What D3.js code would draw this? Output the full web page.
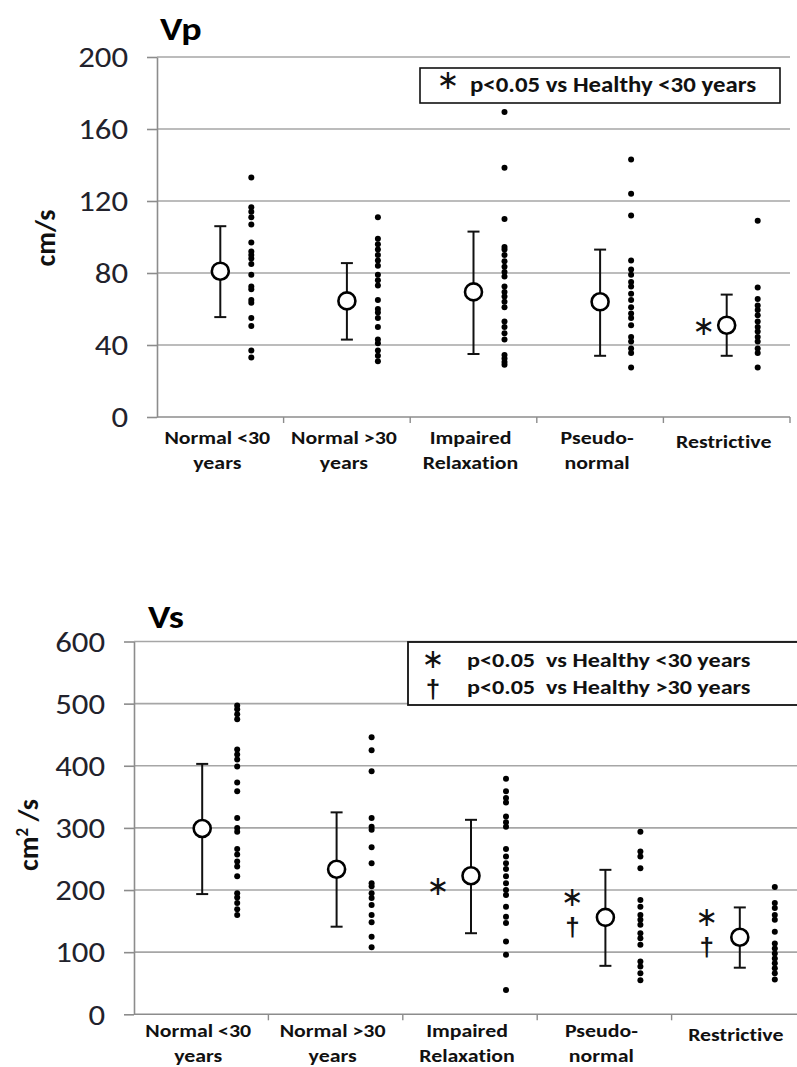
<!DOCTYPE html>
<html><head><meta charset="utf-8">
<script src="https://cdn.jsdelivr.net/npm/d3@7"></script>
<style>
body{margin:0;background:#fff;}
svg{display:block;font-family:Carlito,"Open Sans",sans-serif;font-variant-ligatures:none;}
</style></head><body>
<svg id="fig" width="797" height="1067"></svg>
<script>
// Group labels (one entry per line of the label)
const categories = [["Normal <30","years"],["Normal >30","years"],["Impaired","Relaxation"],["Pseudo-","normal"],["Restrictive"]];

// Vp, cm/s
const vpTicks = [0,40,80,120,160,200];
const vpMean  = [81, 64.5, 69.5, 64, 51];
const vpUpper = [106, 85.5, 103, 93, 68];
const vpLower = [55.5, 43, 35, 34, 34];
const vpPoints = [
  [133,116.5,114,111,107,97,92,90,88,85,79,72.5,71,65,63.5,55,50.5,37,33],
  [111,99,96,93,90,87,84,79,76,73,65,60,58,55,50,43,41,37,34,31],
  [169.5,138.5,110,94.5,93,90,86.5,83.5,80.5,78,72.5,69.5,67,64,61,53,50,46.5,43,34.5,32.5,30.5,29],
  [143,124,112,87,82,79,75,72.5,68.5,65,61,57.5,55,51,44.5,42,38,35.5,27.5],
  [109,72,65.5,62,59.5,56.5,53,50,47.5,44.5,42,38,35.5,27.5]
];
const vpMarks = [[],[],[],[],["∗"]];

// Vs, cm²/s
const vsTicks = [0,100,200,300,400,500,600];
const vsMean  = [299, 233.5, 223, 156, 124];
const vsUpper = [403, 325, 313, 232.5, 172];
const vsLower = [193.5, 141, 130.5, 78, 75];
const vsPoints = [
  [497,491,483,475,426,418,410,399,373,359,316,300,294,266,257,246,238,222,195,188,179,169,160],
  [446,425,391,316,302,297,269,243,211,206,195,187,176,160,148,125,108],
  [379,359,348,341,318.5,309,302,266,254,243,234,222,211,200,192,173,157,147,117,96,39],
  [294,262,254,235,184,173,160,152,144,130.5,122.5,112,85,77,66,55],
  [205,179,171,160,152,133,114,106,98,90,82,74,66,56]
];
const vsMarks = [[],[],["∗"],["∗","†"],["∗","†"]];

const SX = 1.15;           // horizontal stretch applied to lettering
const STAR_FONT = "'DejaVu Sans', sans-serif";
const DAGGER_FONT = "'Liberation Sans', Arial, sans-serif";
const svg = d3.select("#fig");

function label(parent, x, y, str, size, opts = {}) {
  return parent.append("text")
    .attr("transform", `translate(${x},${y}) scale(${SX},1)`)
    .attr("font-size", size)
    .attr("font-weight", opts.weight || "bold")
    .attr("text-anchor", opts.anchor || "start")
    .attr("fill", opts.fill || "#111")
    .style("white-space", "pre")
    .text(str);
}

// asterisk / dagger stack; y is the baseline of the first symbol
function markStack(parent, x, y, marks) {
  const g = parent.append("g");
  marks.forEach((s, j) => {
    const star = s === "∗";
    g.append("text").attr("x", x).attr("y", y + j * 30)
      .attr("text-anchor", "middle").attr("fill", "#111")
      .attr("font-family", star ? STAR_FONT : DAGGER_FONT)
      .attr("font-weight", star ? "normal" : "bold")
      .attr("font-size", star ? 27 : 26).text(s);
  });
  return g;
}

function panel(o) {
  const g = svg.append("g");
  const x = d3.scaleBand().domain(d3.range(categories.length)).range([o.left, o.right]);
  const y = d3.scaleLinear().domain([0, o.max]).range([o.bottom, o.top]);

  // horizontal gridlines
  g.append("g").selectAll("line").data(o.ticks.filter(t => t > 0)).join("line")
    .attr("x1", o.left).attr("x2", o.gridEnd)
    .attr("y1", d => y(d)).attr("y2", d => y(d))
    .attr("stroke", "#a6a6a6").attr("stroke-width", 1.6);

  // y axis
  const ya = g.append("g").attr("transform", `translate(${o.left},0)`)
    .call(d3.axisLeft(y).tickValues(o.ticks).tickSize(10).tickSizeOuter(0));
  ya.select(".domain").attr("stroke", "#8c8c8c").attr("stroke-width", 1.6);
  ya.selectAll(".tick line").attr("stroke", "#8c8c8c").attr("stroke-width", 1.6);
  ya.selectAll(".tick text").attr("x", 0).attr("dy", "0.34em")
    .attr("transform", `translate(-29,0) scale(${SX},1)`)
    .attr("font-size", 28.5).attr("fill", "#22222c")
    .attr("font-family", "Carlito, 'Open Sans', sans-serif");

  // x axis line with group separators
  g.append("line").attr("x1", o.left).attr("x2", o.gridEnd)
    .attr("y1", o.bottom).attr("y2", o.bottom)
    .attr("stroke", "#8c8c8c").attr("stroke-width", 1.6);
  g.append("g").selectAll("line").data(d3.range(1, categories.length + 1)).join("line")
    .attr("x1", i => x.step() * i + o.left).attr("x2", i => x.step() * i + o.left)
    .attr("y1", o.bottom).attr("y2", o.bottom + 6)
    .attr("stroke", "#8c8c8c").attr("stroke-width", 1.4);

  // group labels
  const lab = g.append("g").selectAll("text").data(categories).join("text")
    .attr("text-anchor", "middle").attr("font-weight", "bold").attr("font-size", 19).attr("fill", "#111")
    .attr("transform", (d, i) => `translate(${x(i) + x.bandwidth() / 2 - 3},${o.labelY + (d.length === 1 ? 4 : 0)}) scale(${SX},1)`);
  lab.selectAll("tspan").data(d => d).join("tspan")
    .attr("x", 0).attr("dy", (d, j) => j === 0 ? 0 : 25).text(d => d);

  const cx = i => x(i) + x.bandwidth() / 2 + o.meanShift;

  // individual observations
  o.points.forEach((pts, i) => {
    g.append("g").selectAll("circle").data(pts).join("circle")
      .attr("cx", cx(i) + o.dotShift).attr("cy", d => y(d)).attr("r", 3).attr("fill", "#000");
  });

  // error bars
  const eb = g.append("g").attr("stroke", "#111").attr("stroke-width", 2).attr("fill", "none");
  o.mean.forEach((m, i) => {
    eb.append("line").attr("x1", cx(i)).attr("x2", cx(i)).attr("y1", y(o.upper[i])).attr("y2", y(o.lower[i]));
    [o.upper[i], o.lower[i]].forEach(v => eb.append("line")
      .attr("x1", cx(i) - 6).attr("x2", cx(i) + 6).attr("y1", y(v)).attr("y2", y(v)));
  });

  // group means
  g.append("g").selectAll("circle").data(o.mean).join("circle")
    .attr("cx", (d, i) => cx(i)).attr("cy", d => y(d)).attr("r", 8.5)
    .attr("fill", "#fff").attr("stroke", "#000").attr("stroke-width", 2.6);

  // significance markers
  o.marks.forEach((mk, i) => {
    if (!mk.length) return;
    const base = y(o.mean[i]) + (mk.length === 1 ? o.singleDy : o.stackDy);
    markStack(g, cx(i) + o.markDx, base, mk);
  });

  // panel title
  label(g, o.titleX, o.titleY, o.title, 33, { fill: "#000" });

  // y axis title
  const yt = g.append("text").attr("transform", `translate(${o.yTitleX},${o.yTitleY}) rotate(-90)`)
    .attr("text-anchor", "middle").attr("font-size", 28).attr("font-weight", "bold").attr("fill", "#111");
  o.yTitle(yt);

  return g;
}

// Vp panel
panel({
  left: 157, right: 790, gridEnd: 790, top: 57, bottom: 417, max: 200,
  ticks: vpTicks, mean: vpMean, upper: vpUpper, lower: vpLower, points: vpPoints, marks: vpMarks,
  meanShift: 0, dotShift: 31, markDx: -23, singleDy: 10, stackDy: 0, labelY: 444,
  title: "Vp", titleX: 160, titleY: 40, yTitleX: 55, yTitleY: 238,
  yTitle: t => t.text("cm/s")
});
const leg1 = svg.append("g");
leg1.append("rect").attr("x", 420).attr("y", 68).attr("width", 360).attr("height", 35)
  .attr("fill", "#fff").attr("stroke", "#111").attr("stroke-width", 1.6);
markStack(leg1, 448, 89, ["∗"]);
label(leg1, 470, 92, "p<0.05 vs Healthy <30 years", 21.6);

// Vs panel
panel({
  left: 134, right: 806, gridEnd: 797, top: 641.5, bottom: 1014.3, max: 600,
  ticks: vsTicks, mean: vsMean, upper: vsUpper, lower: vsLower, points: vsPoints, marks: vsMarks,
  meanShift: 1, dotShift: 35, markDx: -33, singleDy: 19, stackDy: -11, labelY: 1037,
  title: "Vs", titleX: 148, titleY: 628, yTitleX: 38, yTitleY: 835,
  yTitle: t => { t.append("tspan").text("cm"); t.append("tspan").attr("font-size", 17).attr("dy", -10).text("2"); t.append("tspan").attr("dy", 10).text(" /s"); }
});
const leg2 = svg.append("g");
leg2.append("rect").attr("x", 408).attr("y", 642).attr("width", 395).attr("height", 63)
  .attr("fill", "#fff").attr("stroke", "#111").attr("stroke-width", 1.8);
markStack(leg2, 433, 668, ["∗", "†"]);
label(leg2, 467, 667, "p<0.05  vs Healthy <30 years", 21);
label(leg2, 467, 694, "p<0.05  vs Healthy >30 years", 21);
</script>
</body></html>
